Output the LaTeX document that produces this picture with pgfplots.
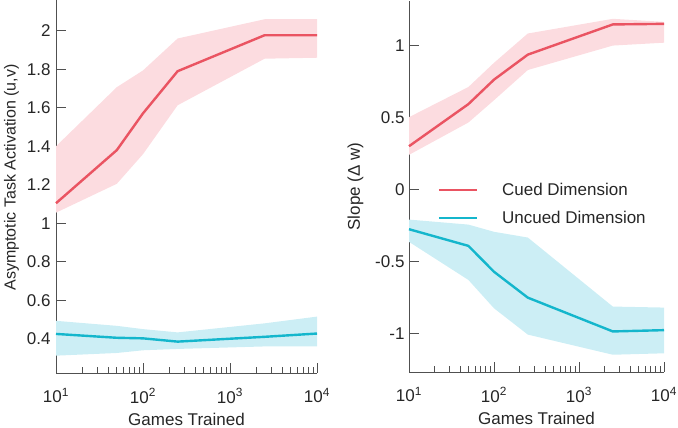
\documentclass[border=0pt]{standalone}
\usepackage{fontspec}
\setmainfont{Liberation Sans}
\usepackage{pgfplots}
\pgfplotsset{compat=1.18}
\definecolor{cuedred}{RGB}{234,84,98}
\definecolor{cuedband}{RGB}{252,220,224}
\definecolor{uncuedcyan}{RGB}{20,182,204}
\definecolor{uncuedband}{RGB}{204,238,245}
\definecolor{axgray}{RGB}{80,80,80}
\begin{document}
\begin{tikzpicture}
\path[use as bounding box] (0,0) rectangle (678pt,428pt);
% Left panel
\begin{axis}[
  scale only axis, at={(56pt,55pt)}, anchor=south west,
  width=261pt, height=373pt,
  xmode=log, xmin=10, xmax=10000,
  ymin=0.222, ymax=2.16,
  axis x line*=bottom, axis y line*=left,
  axis line style={axgray, line width=0.7pt},
  major tick style={axgray, line width=0.7pt},
  minor tick style={axgray, line width=0.7pt},
  major tick length=10pt, minor tick length=6pt,
  tick align=inside,
  xtick={10,100,1000,10000},
  xticklabels={10\textsuperscript{1},10\textsuperscript{2},10\textsuperscript{3},10\textsuperscript{4}},
  ytick={0.4,0.6,0.8,1,1.2,1.4,1.6,1.8,2},
  yticklabels={0.4,0.6,0.8,1,1.2,1.4,1.6,1.8,2},
  tick label style={font=\fontsize{17}{20}\selectfont, text=black!85},
  xticklabel style={yshift=-12pt},
  yticklabel style={xshift=-2pt},
  label style={font=\fontsize{17}{20}\selectfont, text=black!85},
  xlabel={Games Trained},
  ylabel={Asymptotic Task Activation (u,v)},
  xlabel style={yshift=-3pt},
  ylabel style={yshift=1pt, xshift=9pt, font=\fontsize{16}{19}\selectfont},
  clip=false,
]
\addplot[fill=cuedband, draw=none] coordinates {
 (10,1.40) (50,1.707) (100,1.794) (250,1.96) (2500,2.06) (10000,2.06)
 (10000,1.86) (2500,1.855) (250,1.613) (100,1.359) (50,1.205) (10,1.055)} -- cycle;
\addplot[fill=uncuedband, draw=none] coordinates {
 (10,0.493) (50,0.467) (100,0.45) (250,0.433) (2500,0.48) (10000,0.515)
 (10000,0.36) (2500,0.36) (250,0.347) (100,0.34) (50,0.326) (10,0.312)} -- cycle;
\addplot[color=cuedred, line width=2.4pt] coordinates {
 (10,1.104) (50,1.38) (100,1.571) (250,1.79) (2500,1.977) (10000,1.977)};
\addplot[color=uncuedcyan, line width=2.4pt] coordinates {
 (10,0.425) (50,0.405) (100,0.402) (250,0.385) (2500,0.41) (10000,0.427)};
\end{axis}
% Right panel
\begin{axis}[
  scale only axis, at={(409pt,56pt)}, anchor=south west,
  width=255pt, height=371pt,
  xmode=log, xmin=10, xmax=10000,
  ymin=-1.27, ymax=1.31,
  axis x line*=bottom, axis y line*=left,
  axis line style={axgray, line width=0.7pt},
  major tick style={axgray, line width=0.7pt},
  minor tick style={axgray, line width=0.7pt},
  major tick length=10pt, minor tick length=6pt,
  tick align=inside,
  xtick={10,100,1000,10000},
  xticklabels={10\textsuperscript{1},10\textsuperscript{2},10\textsuperscript{3},10\textsuperscript{4}},
  ytick={-1,-0.5,0,0.5,1},
  yticklabels={-1,-0.5,0,0.5,1},
  tick label style={font=\fontsize{17}{20}\selectfont, text=black!85},
  xticklabel style={yshift=-12pt},
  yticklabel style={xshift=-1pt},
  label style={font=\fontsize{17}{20}\selectfont, text=black!85},
  xlabel={Games Trained},
  ylabel={Slope (Δ w)},
  xlabel style={yshift=-3pt},
  ylabel style={yshift=5pt},
  clip=false,
  legend style={at={(0.10,0.52)}, anchor=north west, draw=none, fill=none,
    font=\fontsize{17}{20}\selectfont, text=black!85,
    row sep=10pt, nodes={inner xsep=10pt}},
  legend image code/.code={\draw[#1] (0pt,0pt) -- (38pt,0pt); \path (52pt,0pt);},
  legend cell align=left,
]
\addplot[fill=cuedband, draw=none, forget plot] coordinates {
 (10,0.502) (50,0.712) (100,0.88) (250,1.084) (2500,1.186) (10000,1.165)
 (10000,1.02) (2500,1.0) (250,0.83) (100,0.62) (50,0.465) (10,0.24)} -- cycle;
\addplot[fill=uncuedband, draw=none, forget plot] coordinates {
 (10,-0.21) (50,-0.245) (100,-0.295) (250,-0.335) (2500,-0.815) (10000,-0.822)
 (10000,-1.14) (2500,-1.15) (250,-1.01) (100,-0.827) (50,-0.63) (10,-0.365)} -- cycle;
\addplot[color=cuedred, line width=2.4pt] coordinates {
 (10,0.30) (50,0.593) (100,0.763) (250,0.937) (2500,1.147) (10000,1.151)};
\addlegendentry{Cued Dimension}
\addplot[color=uncuedcyan, line width=2.4pt] coordinates {
 (10,-0.277) (50,-0.393) (100,-0.573) (250,-0.753) (2500,-0.988) (10000,-0.979)};
\addlegendentry{Uncued Dimension}
\end{axis}
\end{tikzpicture}
\end{document}
